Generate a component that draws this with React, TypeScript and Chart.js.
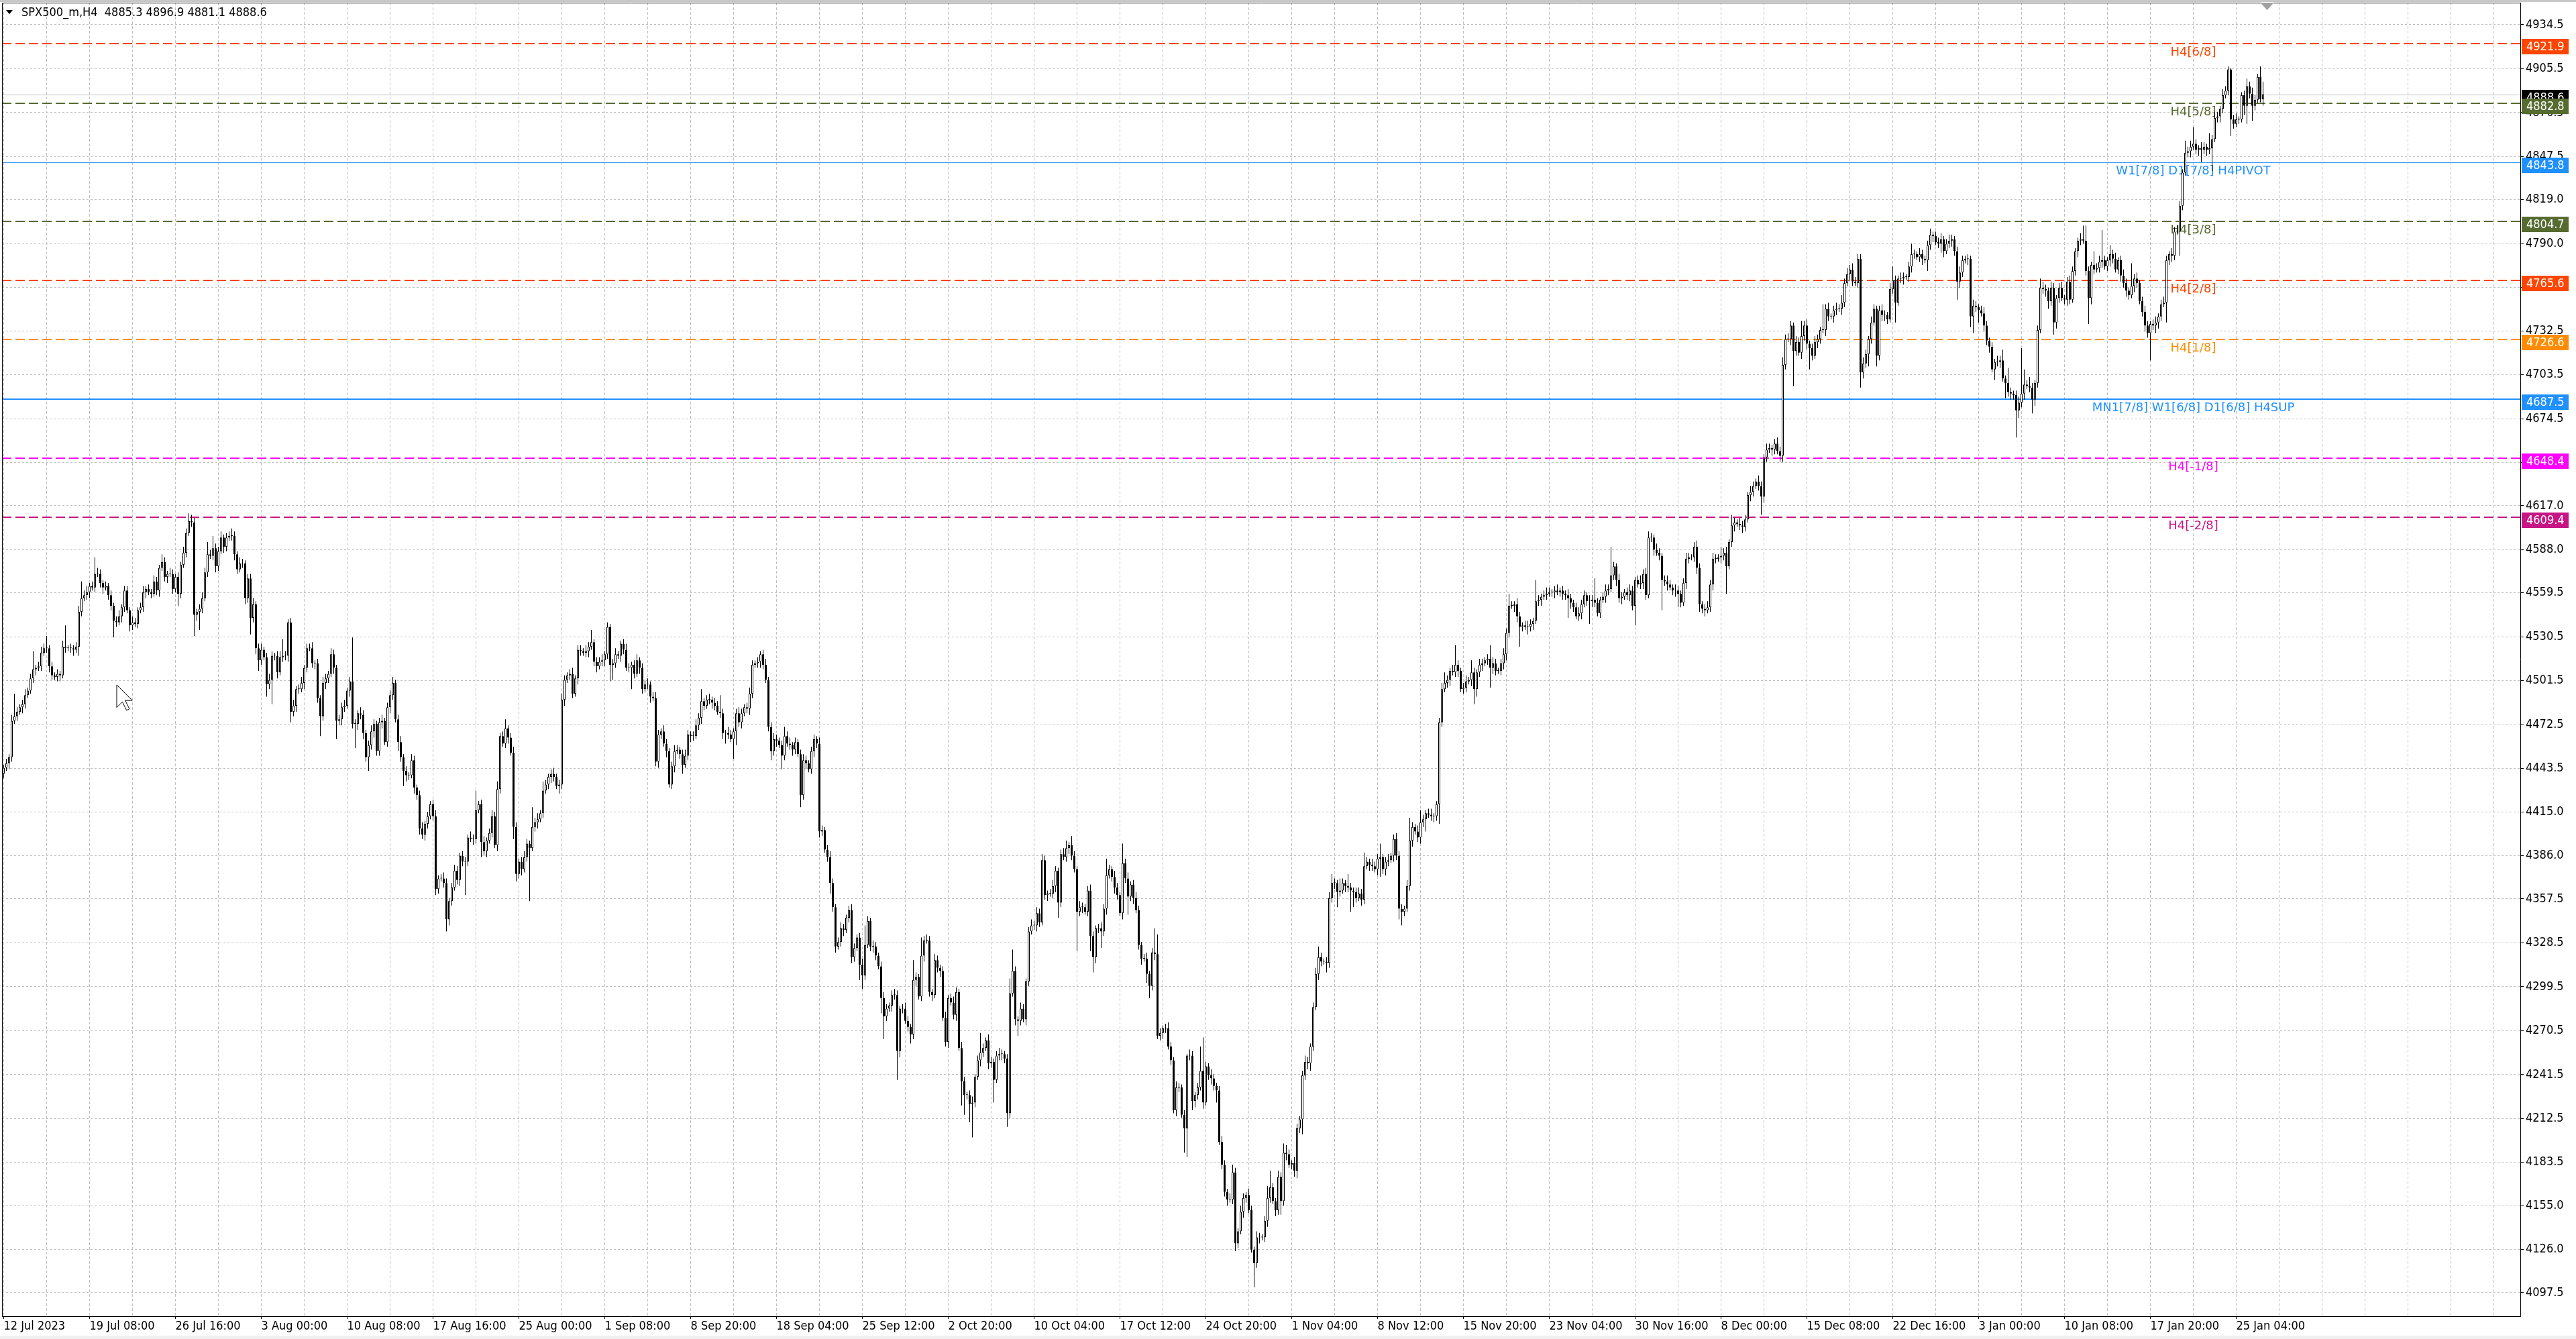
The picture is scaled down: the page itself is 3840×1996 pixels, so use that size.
import React, { useEffect, useRef } from "react";
import { Chart, registerables } from "chart.js";

Chart.register(...registerables);

// ---------- DATA ----------
const symbolName = "SPX500_m";
const timeframe = "H4";
const firstOpen = 4440;

// H4 closes, 12 Jul 2023 -> 26 Jan 2024 (one per bar)
const closesA = [
  4444,4447,4451,4475,4478,4481,4484,4486,4492,4495,
  4503,4509,4510,4511,4520,4523,4523,4511,4505,4504,
  4506,4505,4524,4523,4523,4523,4522,4524,4547,4556,
  4558,4560,4564,4563,4572,4572,4566,4563,4564,4558,
  4551,4541,4540,4544,4550,4561,4548,4538,4540,4539,
  4548,4550,4560,4562,4560,4559,4567,4561,4576,4580,
  4570,4572,4572,4562,4570,4559,4578,4586,4599,4607,
  4606,4545,4547,4549,4556,4573,4585,4584,4589,4577,
  4587,4596,4590,4596,4597,4597,4585,4575,4579,4579,
  4556,4569,4543,4552,4523,4515,4522,4517,4499,4502,
  4518,4518,4507,4517,4518,4518,4540,4481,4485,4496,
  4496,4500,4510,4523,4523,4513,4513,4490,4478,4500,
  4503,4506,4519,4510,4475,4476,4484,4485,4495,4501,
  4473,4473,4480,4479,4467,4451,4459,4468,4473,4455,
  4474,4475,4461,4484,4492,4500,4476,4461,4451,4442,
  4439,4439,4449,4431,4426,4404,4400,4407,4412,4420,
  4412,4364,4371,4371,4368,4344,4356,4365,4376,4370,
  4386,4382
];
const closesB = [
  4382,4398,4397,4397,4416,4420,4395,4389,4396,4401,
  4412,4393,4430,4465,4460,4470,4464,4454,4405,4374,
  4382,4377,4385,4394,4391,4405,4408,4410,4414,4429,
  4433,4438,4440,4438,4432,4433,4489,4502,4505,4506,
  4493,4503,4522,4521,4520,4521,4524,4527,4514,4511,
  4514,4515,4519,4537,4512,4513,4519,4518,4526,4522,
  4510,4510,4512,4506,4515,4510,4496,4499,4499,4491,
  4490,4448,4466,4468,4460,4455,4433,4445,4455,4456,
  4453,4446,4452,4466,4465,4465,4472,4477,4488,4485,
  4489,4489,4487,4485,4481,4480,4467,4467,4466,4463,
  4468,4480,4474,4480,4484,4483,4493,4512,4513,4514,
  4519,4512,4502,4471,4455,4463,4462,4459,4452,4465,
  4460,4459,4456,4461,4453,4426,4449,4447,4443,4455,
  4463,4460,4402,4403,4390,4385,4368,4352,4326,4329,
  4338,4337,4345,4350,4319,4325,4332,4314,4307,4327,
  4343,4326,4326,4320,4313,4292,4280,4285,4287,4294,
  4294,4257,4285,4285,4277,4273,4268,4304,4306,4293,
  4320,4330,4330
];
const closesC = [
  4296,4294,4317,4312,4310,4279,4263,4292,4289,4281,
  4296,4259,4237,4228,4228,4222,4223,4240,4251,4256,
  4259,4264,4249,4250,4238,4254,4255,4255,4252,4216,
  4295,4310,4278,4277,4285,4278,4303,4336,4340,4340,
  4348,4342,4383,4360,4361,4361,4366,4376,4355,4387,
  4385,4391,4393,4386,4377,4349,4352,4352,4349,4363,
  4333,4319,4338,4338,4336,4351,4373,4377,4372,4365,
  4360,4348,4381,4371,4359,4367,4358,4350,4327,4318,
  4318,4308,4300,4322,4321,4267,4269,4272,4272,4260,
  4251,4218,4233,4233,4215,4206,4254,4254,4224,4228,
  4233,4244,4223,4247,4241,4239,4234,4231,4197,4182,
  4164,4159,4159,4177,4130,4138,4151,4160,4162,4152,
  4126,4117,4134,4134,4134,4145,4160,4167,4158,4152,
  4174,4158,4190,4189,4182,4183,4178,4206,4212,4241,
  4250,4249,4260,4286,4308,4319,4316,4316,4315,4358,
  4368,4368,4362,4363,4368,4366,4365,4363,4362,4358,
  4361,4357,4379,4382,4380,4379,4377,4384,4385,4377,
  4382,4383,4386,4397,4386,4351
];
const closesD = [
  4349,4351,4366,4396,4405,4402,4398,4408,4410,4414,
  4413,4412,4412,4420,4474,4496,4500,4502,4508,4507,
  4512,4508,4496,4497,4501,4502,4507,4496,4507,4512,
  4513,4515,4516,4510,4513,4508,4508,4513,4519,4533,
  4551,4551,4552,4544,4537,4538,4537,4537,4539,4541,
  4554,4555,4557,4558,4559,4560,4560,4561,4560,4561,
  4559,4558,4556,4553,4550,4544,4546,4552,4558,4554,
  4554,4555,4553,4546,4555,4557,4561,4562,4571,4577,
  4568,4556,4557,4560,4558,4561,4551,4568,4565,4566,
  4572,4558,4596,4596,4588,4586,4584,4568,4567,4565,
  4563,4561,4561,4559,4553,4566,4582,4583,4583,4590,
  4576,4552,4549,4548,4550,4565,4582,4582,4583,4584,
  4586,4577,4593,4604,4606,4605,4604,4603,4608,4624,
  4626,4630,4633,4630,4623,4649,4654,4655,4654,4658,
  4653,4650,4710,4727,4727,4736,4719,4725,4718,4729,
  4736,4724,4721,4716,4725,4727,4733,4733,4747,4742,
  4742,4746,4747,4747,4751,4764,4770,4773,4765,4764,
  4780,4705,4711,4717,4727,4738,4747,4716,4746,4743
];
const closesE = [
  4743,4740,4760,4766,4751,4767,4767,4768,4768,4775,
  4783,4783,4781,4783,4780,4779,4789,4796,4795,4791,
  4790,4793,4785,4790,4792,4793,4785,4765,4771,4779,
  4780,4780,4742,4749,4748,4746,4744,4736,4726,4722,
  4707,4712,4712,4713,4701,4698,4692,4691,4690,4680,
  4685,4691,4697,4696,4695,4687,4698,4733,4761,4760,
  4759,4752,4761,4738,4754,4761,4754,4753,4765,4753,
  4772,4785,4792,4793,4792,4772,4754,4776,4773,4774,
  4778,4779,4775,4779,4783,4780,4773,4779,4769,4764,
  4759,4756,4762,4767,4764,4752,4745,4736,4731,4737,
  4736,4738,4742,4750,4751,4779,4783,4782,4798,4798,
  4815,4837,4850,4851,4854,4856,4852,4853,4852,4854,
  4852,4853,4859,4873,4874,4879,4888,4891,4905,4872,
  4869,4872,4872,4888,4881,4894,4889,4881,4885,4900,
  4885.3,4888.6
];

// upper / lower wick lengths (points beyond the body)
const upA = [
  2,3,2,4,15,3,2,3,4,2, 3,12,2,3,4,3,8,2,3,2, 3,2,4,14,2,3,2,3,4,11, 3,4,2,3,11,4,3,2,3,2,
  3,2,3,4,2,3,3,2,4,3, 2,3,4,2,3,2,4,3,2,5, 3,2,4,3,2,3,2,4,3,5, 4,3,2,3,4,3,8,3,8,3,
  3,4,2,3,3,5,3,2,4,3, 2,3,3,4,2,3,4,2,3,4, 3,2,3,4,11,3,2,3,4,2, 3,4,2,3,3,4,2,3,2,4,
  3,2,4,3,2,3,3,4,2,3, 29,3,2,4,3,2,3,4,3,2, 3,4,2,3,3,4,2,3,4,2, 3,2,4,3,2,3,4,2,3,2,
  3,4,2,3,4,3,2,3,4,3, 2,3
];
const dnA = [
  3,2,4,3,2,3,2,4,3,2, 2,3,4,2,3,2,3,4,3,2, 3,4,2,3,2,3,4,2,6,3, 2,3,4,2,3,2,3,4,2,3,
  3,11,3,2,4,3,2,4,3,2, 3,2,3,4,2,3,2,3,4,2, 3,4,2,3,2,8,3,2,3,2, 3,14,4,12,3,2,3,2,3,4,
  3,2,4,3,2,3,4,3,2,3, 4,3,11,3,4,7,3,2,8,3, 16,3,4,2,3,3,4,7,3,4, 3,2,4,3,2,3,4,3,13,3,
  4,3,2,4,12,3,4,3,2,4, 3,16,4,3,4,3,9,3,4,3, 3,4,2,3,4,3,2,6,3,10, 4,3,2,4,3,4,3,4,3,2,
  3,4,3,2,3,8,4,3,2,3, 4,3
];
const upB = [
  3,2,4,3,13,2,3,4,2,3, 4,3,5,2,3,6,2,3,4,3, 2,3,4,3,2,13,3,4,2,6, 3,2,3,4,2,3,4,3,2,3,
  4,2,3,3,2,4,3,8,2,3, 3,4,2,3,2,3,4,2,2,3, 4,3,2,3,4,2,3,3,4,2, 3,4,3,2,4,3,2,3,4,3,
  2,3,4,3,2,3,4,3,8,2, 3,4,2,3,3,11,3,2,4,3, 2,3,4,3,2,3,4,3,2,3, 2,3,4,2,3,4,3,2,3,6,
  3,4,2,3,2,3,4,3,2,3, 3,2,4,3,2,3,4,3,2,3, 4,3,2,3,4,3,2,3,4,13, 3,2,4,3,2,3,4,3,2,3,
  4,3,2,3,4,3,2,13,3,2, 12,3,4
];
const dnB = [
  22,3,2,4,3,2,10,3,4,2, 3,2,4,3,2,3,4,2,8,5, 3,4,2,3,35,2,3,4,2,3, 2,3,4,3,2,5,3,4,2,3,
  3,2,4,3,2,3,4,2,3,4, 2,3,4,3,11,10,3,2,4,3, 2,3,14,3,2,4,3,2,3,4, 2,3,4,3,2,4,2,3,4,2,
  3,6,2,3,4,3,2,3,4,3, 2,3,4,3,2,3,4,7,3,2, 13,9,3,4,2,3,4,3,2,3, 4,3,2,3,6,3,4,2,9,3,
  2,3,4,3,2,8,3,4,2,3, 4,3,4,3,2,3,7,3,4,2, 3,4,2,3,4,3,2,10,9,3, 2,3,4,3,2,10,15,3,2,4,
  3,19,4,3,2,3,6,3,4,2, 3,4,2
];
const upC = [
  3,2,4,3,2,3,4,2,3,4, 3,2,4,3,2,3,4,2,3,13, 3,2,4,3,2,3,4,3,2,3, 10,14,3,2,4,3,2,3,4,3,
  4,3,4,3,2,3,4,3,2,3, 4,5,2,6,3,2,4,3,2,3, 4,3,2,3,4,3,11,3,2,4, 3,2,13,3,4,2,3,4,3,2,
  3,4,2,3,16,13,3,2,3,4, 3,2,4,3,2,3,1,4,3,2, 3,16,22,3,2,4,3,2,3,4, 3,2,4,5,3,2,4,3,2,4,
  3,2,4,3,2,3,8,11,3,2, 4,3,6,5,3,2,4,3,2,3, 4,3,2,3,4,7,3,2,3,4, 6,3,2,8,3,2,8,3,2,3,
  4,3,9,3,2,4,3,3,9,2, 3,4,2,3,4,3
];
const dnC = [
  3,4,2,3,4,2,3,4,2,3, 4,2,16,13,3,12,22,3,2,4, 3,2,4,3,15,2,3,4,3,9, 3,2,4,10,3,2,4,3,2,3,
  4,3,2,3,4,2,3,4,10,3, 2,3,4,3,2,26,3,4,2,3, 10,10,4,3,11,3,4,2,3,4, 3,2,4,3,12,3,4,2,3,4,
  2,6,8,3,4,2,3,4,3,2, 3,2,4,3,2,16,19,3,6,4, 3,2,4,2,3,4,3,8,2,3, 3,4,2,3,5,3,2,4,3,2,
  2,16,3,4,2,3,4,3,2,4, 3,9,3,4,2,3,4,5,3,10, 3,4,5,3,2,4,3,2,6,3, 3,4,10,3,2,4,3,14,10,3,
  2,4,3,2,4,3,2,4,12,3, 4,3,2,4,3,7
];
const upD = [
  3,2,4,15,3,2,4,8,3,2, 3,4,2,2,3,4,7,3,2,4, 13,3,2,3,4,2,8,3,2,4, 3,2,3,9,4,3,2,3,4,3,
  8,3,2,4,3,2,3,4,3,2, 14,3,2,3,4,3,2,3,4,2, 3,2,4,3,2,3,4,3,3,2, 4,3,14,3,2,3,4,3,19,3,
  2,4,3,2,3,4,3,2,3,5, 3,4,4,3,2,4,3,2,3,4, 3,2,4,3,2,3,4,3,2,3, 4,3,2,3,4,3,4,3,2,6,
  3,4,2,7,3,2,4,3,3,2, 4,3,2,4,3,2,4,3,2,3, 4,3,5,3,4,3,2,4,3,10, 3,4,2,3,4,3,2,17,3,4,
  2,3,4,3,5,3,4,3,4,3, 3,3,4,3,2,4,3,2,3,4
];
const dnD = [
  9,3,2,3,4,2,3,4,3,8, 2,3,4,3,13,3,2,3,4,2, 3,4,2,3,3,2,4,10,5,3, 4,2,3,13,4,3,2,3,4,4,
  3,2,4,4,13,3,2,5,3,4, 2,3,4,2,3,2,3,4,2,3, 4,3,13,4,3,2,3,4,2,3, 15,4,3,2,3,2,4,3,2,3,
  4,3,4,2,3,4,3,13,2,3, 4,3,2,3,4,2,3,20,3,4, 2,3,4,9,3,2,4,3,2,3, 4,5,3,4,2,3,4,3,2,4,
  3,18,2,3,4,2,3,4,3,2, 4,3,2,3,12,4,3,2,4,3, 2,4,4,3,2,4,23,3,2,4, 3,4,14,3,2,4,3,2,4,3,
  2,4,3,2,4,3,2,4,3,2, 3,10,4,3,8,3,2,7,3,4
];
const upE = [
  3,2,4,9,3,2,4,3,2,3, 7,3,2,4,3,2,3,4,2,3, 3,4,2,3,4,3,2,3,4,3, 2,3,2,4,3,2,3,4,3,2,
  3,2,4,3,7,2,10,3,2,3, 4,30,10,3,6,3,2,3,6,4, 3,2,4,3,2,3,4,2,3,4, 3,2,2,4,9,10,3,2,9,3,
  4,20,3,2,6,3,4,2,3,4, 3,2,15,3,4,2,3,4,3,2, 3,4,2,3,4,3,2,4,3,4, 3,2,8,3,4,11,3,2,4,3,
  2,10,3,4,3,2,4,3,2,1, 3,4,2,2,3,5,3,4,3,2, 7,8.3
];
const dnE = [
  4,3,2,3,13,2,3,4,2,3, 4,3,2,3,4,2,7,3,4,2, 3,6,4,2,3,4,3,12,4,3, 2,4,7,11,3,8,2,4,3,4,
  2,7,3,4,2,10,3,4,3,18, 5,3,4,2,3,9,4,3,2,3, 4,5,3,8,4,3,2,3,4,3, 2,3,4,3,2,3,17,4,3,2,
  3,4,2,3,4,3,2,3,4,3, 4,3,2,4,3,2,3,4,3,18, 3,5,4,3,2,13,3,4,3,2, 16,3,2,3,4,2,3,4,8,3,
  4,3,15,2,3,4,3,2,3,11, 3,2,3,2,6,12,3,10,3,2, 2,4.2
];

// axis text
const xTickLabels = [
  "12 Jul 2023","19 Jul 08:00","26 Jul 16:00","3 Aug 00:00","10 Aug 08:00","17 Aug 16:00",
  "25 Aug 00:00","1 Sep 08:00","8 Sep 20:00","18 Sep 04:00","25 Sep 12:00","2 Oct 20:00",
  "10 Oct 04:00","17 Oct 12:00","24 Oct 20:00","1 Nov 04:00","8 Nov 12:00","15 Nov 20:00",
  "23 Nov 04:00","30 Nov 16:00","8 Dec 00:00","15 Dec 08:00","22 Dec 16:00","3 Jan 00:00",
  "10 Jan 08:00","17 Jan 20:00","25 Jan 04:00"
];
const yTickValues = [
  4934.5,4905.5,4876.5,4847.5,4819.0,4790.0,4761.0,4732.5,4703.5,4674.5,4645.5,4617.0,
  4588.0,4559.5,4530.5,4501.5,4472.5,4443.5,4415.0,4386.0,4357.5,4328.5,4299.5,4270.5,
  4241.5,4212.5,4183.5,4155.0,4126.0,4097.5
];

// Murrey-math style levels
const levelValues = [4921.9, 4882.8, 4843.8, 4804.7, 4765.6, 4726.6, 4687.5, 4648.4, 4609.4];
const levelLabels = [
  "H4[6/8]", "H4[5/8]", "W1[7/8] D1[7/8] H4PIVOT", "H4[3/8]", "H4[2/8]", "H4[1/8]",
  "MN1[7/8] W1[6/8] D1[6/8] H4SUP", "H4[-1/8]", "H4[-2/8]"
];
const levelColors = ["#FF4500", "#556B2F", "#1E90FF", "#556B2F", "#FF4500", "#FF8C00", "#1E90FF", "#FF00FF", "#C71585"];
const levelSolid = [false, false, true, false, false, false, true, false, false];
const levelWidths = [2, 2, 1, 2, 2, 2, 2, 2, 2];

// ---------- BUILD ----------
const closes = [...closesA, ...closesB, ...closesC, ...closesD, ...closesE];
const ups = [...upA, ...upB, ...upC, ...upD, ...upE];
const dns = [...dnA, ...dnB, ...dnC, ...dnD, ...dnE];
const opens = closes.map((c, i) => (i === 0 ? firstOpen : closes[i - 1]));
const highs = closes.map((c, i) => Math.max(opens[i], c) + (ups[i] ?? 0));
const lows = closes.map((c, i) => Math.min(opens[i], c) - (dns[i] ?? 0));
const lastIdx = closes.length - 1;

const AXIS_FONT = "'DejaVu Sans Condensed', 'DejaVu Sans', sans-serif";
const LABEL_FONT = "'DejaVu Sans', sans-serif";

const W = 3840;
const H = 1996;
const BARS_PER_LABEL = 32;
const BARS_PER_GRID = 16;
const LABEL_BAR = 816;

const overlay = {
  id: "mt4overlay",
  beforeDatasetsDraw(chart: any) {
    const { ctx, chartArea: a, scales } = chart;
    const x = scales.x, y = scales.y;
    ctx.save();
    ctx.beginPath();
    ctx.rect(a.left, a.top, a.right - a.left, a.bottom - a.top);
    ctx.clip();
    // current price line
    const py = Math.round(y.getPixelForValue(closes[lastIdx])) + 0.5;
    ctx.strokeStyle = "#C0C0C0";
    ctx.lineWidth = 1;
    ctx.setLineDash([]);
    ctx.beginPath();
    ctx.moveTo(a.left, py);
    ctx.lineTo(a.right, py);
    ctx.stroke();
    levelValues.forEach((v, k) => {
      const w = levelWidths[k];
      const yy = Math.round(y.getPixelForValue(v)) + (w % 2 ? 0.5 : 0);
      ctx.strokeStyle = levelColors[k];
      ctx.lineWidth = w;
      ctx.setLineDash(levelSolid[k] ? [] : [14, 6]);
      ctx.beginPath();
      ctx.moveTo(a.left, yy);
      ctx.lineTo(a.right, yy);
      ctx.stroke();
      ctx.setLineDash([]);
      ctx.fillStyle = levelColors[k];
      ctx.font = `18px ${LABEL_FONT}`;
      ctx.textAlign = "center";
      ctx.textBaseline = "middle";
      ctx.fillText(levelLabels[k], x.getPixelForValue(LABEL_BAR), yy + 13);
    });
    ctx.restore();
  },
  afterDraw(chart: any) {
    const { ctx, chartArea: a, scales } = chart;
    const x = scales.x, y = scales.y;
    ctx.save();
    // window strips
    ctx.fillStyle = "#C8C8C8";
    ctx.fillRect(0, 0, W, 3);
    ctx.fillStyle = "#F0F0F0";
    ctx.fillRect(0, H - 5, W, 5);
    // frame
    ctx.strokeStyle = "#000";
    ctx.lineWidth = 1;
    ctx.setLineDash([]);
    ctx.beginPath();
    ctx.moveTo(a.left + 0.5, a.bottom);
    ctx.lineTo(a.left + 0.5, a.top + 0.5);
    ctx.lineTo(a.right, a.top + 0.5);
    ctx.stroke();
    // price tags
    const tag = (v: number, color: string, txt: string) => {
      const yy = Math.round(y.getPixelForValue(v));
      const top = yy - 7;
      ctx.fillStyle = color;
      ctx.fillRect(a.right + 2, top, 70, 23);
      ctx.fillStyle = "#FFFFFF";
      ctx.font = `18px ${AXIS_FONT}`;
      ctx.textAlign = "left";
      ctx.textBaseline = "middle";
      ctx.fillText(txt, a.right + 9, top + 12);
    };
    tag(closes[lastIdx], "#000000", closes[lastIdx].toFixed(1));
    levelValues.forEach((v, k) => tag(v, levelColors[k], v.toFixed(1)));
    // title
    ctx.fillStyle = "#000";
    ctx.beginPath();
    ctx.moveTo(9, 15);
    ctx.lineTo(19, 15);
    ctx.lineTo(14, 21);
    ctx.closePath();
    ctx.fill();
    const title = `${symbolName},${timeframe}  ${opens[lastIdx].toFixed(1)} ${highs[lastIdx].toFixed(1)} ${lows[lastIdx].toFixed(1)} ${closes[lastIdx].toFixed(1)}`;
    ctx.font = `18px ${AXIS_FONT}`;
    ctx.textAlign = "left";
    ctx.textBaseline = "middle";
    ctx.fillText(title, 32, 19.5);
    // chart shift marker
    const sx = x.getPixelForValue(lastIdx + 1.5);
    ctx.fillStyle = "#A0A0A0";
    ctx.beginPath();
    ctx.moveTo(sx - 10, a.top);
    ctx.lineTo(sx + 10, a.top);
    ctx.lineTo(sx, a.top + 11);
    ctx.closePath();
    ctx.fill();
    // mouse pointer
    const cx = 174, cy = 1021, s = 2.1;
    const pts = [[0, 0], [0, 16], [4, 12], [7, 18], [9, 17], [6, 11], [11, 11]];
    ctx.beginPath();
    pts.forEach(([px, pyy], k) => (k ? ctx.lineTo(cx + px * s, cy + pyy * s) : ctx.moveTo(cx + px * s, cy + pyy * s)));
    ctx.closePath();
    ctx.fillStyle = "#FFFFFF";
    ctx.fill();
    ctx.strokeStyle = "#000";
    ctx.lineWidth = 1;
    ctx.stroke();
    ctx.restore();
  },
};

export default function App() {
  const ref = useRef<HTMLCanvasElement>(null);
  useEffect(() => {
    document.body.style.margin = "0";
    document.body.style.overflow = "hidden";
    const canvas = ref.current;
    if (!canvas) return;
    const wickData = closes.map((c, i) => ({ x: i, y: [lows[i], highs[i]] }));
    const bodyData = closes.map((c, i) => ({ x: i, y: [opens[i], c] }));
    const chart = new Chart(canvas, {
      type: "bar",
      data: {
        datasets: [
          {
            data: wickData as any,
            backgroundColor: "#000000",
            borderWidth: 0,
            barThickness: 1,
            grouped: false,
            inflateAmount: 0,
            order: 2,
          } as any,
          {
            data: bodyData as any,
            backgroundColor: (c: any) => {
              const r = c.raw;
              return r && r.y[1] >= r.y[0] ? "#FFFFFF" : "#000000";
            },
            borderColor: "#000000",
            borderWidth: 1,
            borderSkipped: false,
            barThickness: 3,
            minBarLength: 1,
            grouped: false,
            inflateAmount: 0,
            order: 1,
          } as any,
        ],
      },
      options: {
        responsive: false,
        maintainAspectRatio: false,
        animation: false,
        devicePixelRatio: 1,
        events: [],
        layout: { padding: { left: 3, top: 4, right: 0, bottom: 0 } },
        plugins: { legend: { display: false }, tooltip: { enabled: false }, title: { display: false } },
        scales: {
          x: {
            type: "linear",
            min: -0.625,
            max: 937.875,
            offset: false,
            position: "bottom",
            grid: {
              offset: false,
              color: "#C0C0C0",
              lineWidth: 1,
              drawTicks: true,
              tickLength: 4,
              tickWidth: 1,
              tickColor: (c: any) =>
                c.tick && c.tick.value % BARS_PER_LABEL === 0 && c.tick.value / BARS_PER_LABEL < xTickLabels.length
                  ? "#000000"
                  : "rgba(0,0,0,0)",
            },
            border: { display: true, color: "#000000", width: 1, dash: [4, 3] },
            ticks: {
              autoSkip: false,
              maxRotation: 0,
              minRotation: 0,
              align: "start",
              padding: 1,
              color: "#000000",
              font: { family: AXIS_FONT, size: 18 },
              callback: (v: any) => {
                const k = Math.round(Number(v) / BARS_PER_LABEL);
                return Number(v) % BARS_PER_LABEL === 0 && k < xTickLabels.length ? xTickLabels[k] : "";
              },
            },
            afterBuildTicks: (s: any) => {
              const t = [];
              for (let v = 0; v <= 937; v += BARS_PER_GRID) t.push({ value: v });
              s.ticks = t;
            },
            afterFit: (s: any) => {
              s.height = 34;
              s.paddingLeft = 0;
              s.paddingRight = 0;
              s.paddingTop = 0;
              s.paddingBottom = 0;
            },
          } as any,
          y: {
            type: "linear",
            position: "right",
            min: 4082.0,
            max: 4949.1,
            beginAtZero: false,
            grid: {
              color: "#C0C0C0",
              lineWidth: 1,
              drawTicks: true,
              tickLength: 5,
              tickColor: "#000000",
            },
            border: { display: true, color: "#000000", width: 1, dash: [3, 3] },
            ticks: {
              autoSkip: false,
              padding: 3,
              color: "#000000",
              font: { family: AXIS_FONT, size: 18 },
              callback: (v: any) => Number(v).toFixed(1),
            },
            afterBuildTicks: (s: any) => {
              s.ticks = yTickValues.map((v) => ({ value: v }));
            },
            afterFit: (s: any) => {
              s.width = 83;
              s.paddingLeft = 0;
              s.paddingRight = 0;
              s.paddingTop = 0;
              s.paddingBottom = 0;
            },
          } as any,
        },
      },
      plugins: [overlay],
    } as any);
    return () => chart.destroy();
  }, []);
  return (
    <div style={{ width: W, height: H, background: "#FFFFFF", overflow: "hidden" }}>
      <canvas ref={ref} width={W} height={H} style={{ display: "block", width: W, height: H }} />
    </div>
  );
}
